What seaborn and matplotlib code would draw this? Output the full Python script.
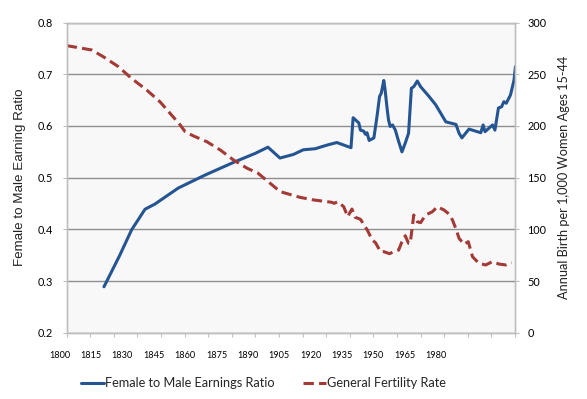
import numpy as np
import pandas as pd
import seaborn as sns
import matplotlib.pyplot as plt
from matplotlib.ticker import MultipleLocator

sns.set_theme(style="white")
plt.rcParams['font.family'] = ['Lato', 'DejaVu Sans']

# female to male earnings ratio (left axis)
earn_years = [1815.8, 1822.5, 1827.5, 1833.2, 1837.4, 1847.3, 1858.6, 1871.4, 1879.9, 1885.3,
              1890.4, 1896.1, 1900.3, 1905.3, 1910.3, 1914.5, 1920.5, 1921.4, 1923.8, 1924.5,
              1925.9, 1926.6, 1927.3, 1928.2, 1930.2, 1931.6, 1932.6, 1933.3, 1934.4, 1934.9,
              1935.8, 1936.4, 1937.1, 1938.1, 1939.3, 1940.7, 1942.1, 1943.5, 1944.9, 1946.1,
              1947.1, 1948.6, 1950.0, 1953.6, 1956.4, 1960.7, 1965.0, 1966.3, 1967.5, 1970.5,
              1975.5, 1976.5, 1977.3, 1980.5, 1981.5, 1983.0, 1984.3, 1985.3, 1986.3, 1988.1,
              1989.6, 1990.2]
earn_ratio = [0.289, 0.350, 0.399, 0.439, 0.449, 0.480, 0.505, 0.531, 0.547, 0.559,
              0.538, 0.545, 0.554, 0.556, 0.563, 0.568, 0.558, 0.616, 0.606, 0.592,
              0.590, 0.584, 0.587, 0.572, 0.577, 0.621, 0.657, 0.663, 0.688, 0.672,
              0.634, 0.612, 0.599, 0.602, 0.592, 0.570, 0.550, 0.567, 0.586, 0.673,
              0.676, 0.687, 0.676, 0.657, 0.641, 0.608, 0.603, 0.586, 0.577, 0.594,
              0.587, 0.602, 0.589, 0.602, 0.592, 0.635, 0.637, 0.647, 0.644, 0.660,
              0.689, 0.715]

# general fertility rate (right axis)
gfr_years = [1800.0, 1810.6, 1815.5, 1821.9, 1827.5, 1833.9, 1839.5, 1843.8, 1848.1, 1850.2,
             1853.8, 1859.4, 1865.1, 1870.7, 1876.5, 1881.0, 1890.5, 1898.9, 1904.6, 1912.4,
             1913.4, 1914.8, 1917.4, 1919.1, 1920.9, 1922.3, 1924.5, 1927.4, 1929.5, 1930.9,
             1933.0, 1934.4, 1936.8, 1939.3, 1940.7, 1942.1, 1943.5, 1944.9, 1945.6, 1947.1,
             1948.6, 1950.0, 1952.1, 1955.0, 1957.1, 1959.9, 1962.0, 1963.5, 1964.9, 1966.3,
             1968.4, 1970.2, 1972.0, 1974.7, 1977.6, 1980.4, 1983.2, 1986.1, 1988.6]
gfr_rate = [277.7, 273.5, 267.0, 257.4, 246.0, 234.8, 223.5, 212.3, 201.0, 194.5,
            190.3, 184.8, 176.8, 167.1, 159.1, 154.5, 136.5, 131.0, 128.5, 126.2,
            125.2, 126.8, 122.0, 112.3, 119.7, 111.7, 109.8, 99.4, 89.8, 87.1,
            78.5, 78.5, 76.5, 79.1, 80.0, 88.1, 93.9, 86.5, 86.5, 113.9,
            107.4, 106.5, 113.9, 117.1, 121.9, 118.8, 114.9, 109.1, 101.0, 91.4,
            85.6, 88.1, 73.6, 67.2, 65.6, 68.8, 66.5, 65.6, 67.8]

# category labels as they appear under the axis
x_labels = ['1800', '1815', '1830', '1845', '1860', '1875', '1890',
            '1905', '1920', '1935', '1950', '1965', '1980']

blue = '#245592'
red = '#A33A36'
grid_c = '#8E8E8E'
edge_c = '#BFBFBF'

earn = pd.DataFrame({'year': earn_years, 'ratio': earn_ratio})
gfr = pd.DataFrame({'year': gfr_years, 'rate': gfr_rate})

fig = plt.figure(figsize=(5.87, 3.99), dpi=100)
ax = fig.add_axes([0.1136, 0.1659, 0.7637, 0.7775])
ax2 = ax.twinx()
ax.set_facecolor('#F8F8F8')
ax2.patch.set_visible(False)

sns.lineplot(data=earn, x='year', y='ratio', ax=ax, color=blue, lw=2.2,
             label='Female to Male Earnings Ratio', legend=False)
sns.lineplot(data=gfr, x='year', y='rate', ax=ax2, color=red, lw=2.2,
             label='General Fertility Rate', legend=False)
ax2.lines[-1].set_linestyle((0, (3.4, 1.7)))

ax.set_xlim(1800, 1990)
ax.set_ylim(0.2, 0.8)
ax2.set_ylim(0, 300)
ax.set_yticks(np.arange(0.2, 0.81, 0.1))
ax.set_yticklabels([f'{v:.1f}' for v in np.arange(0.2, 0.81, 0.1)])
ax2.set_yticks(range(0, 301, 50))

# labels sit every 13.3 years, right-aligned so they fall a little left of their slot
ax.set_xticks([1801.5 + 13.3 * i for i in range(len(x_labels))], x_labels, ha='right')
ax.xaxis.set_minor_locator(MultipleLocator(10))

ax.grid(axis='y', color=grid_c, lw=1.0)
ax.set_axisbelow(True)
for a in (ax, ax2):
    for s in a.spines.values():
        s.set_color(edge_c)
        s.set_linewidth(1.0)

ax.tick_params(axis='x', which='major', length=0, pad=13, labelsize=6.6, colors='black')
ax.tick_params(axis='x', which='minor', bottom=True, length=3, width=0.8, color=edge_c)
ax.tick_params(axis='y', left=True, length=3, width=0.8, color=edge_c, pad=7, labelsize=7.8, labelcolor='black')
ax2.tick_params(axis='y', right=True, length=3, width=0.8, color=edge_c, pad=6, labelsize=7.8, labelcolor='black')

ax.set_xlabel('')
ax.set_ylabel('Female to Male Earning Ratio', family=['Liberation Sans', 'DejaVu Sans'],
              fontsize=9.6, color='#222222', labelpad=8)
ax2.set_ylabel('Annual Birth per 1,000 Women Ages 15-44', fontsize=9.2, color='#222222', labelpad=8)

handles = ax.lines[:1] + ax2.lines[-1:]
fig.legend(handles, ['Female to Male Earnings Ratio', 'General Fertility Rate'],
           loc='center', bbox_to_anchor=(0.449, 0.04), ncol=2, frameon=False,
           fontsize=9.2, handlelength=1.8, handletextpad=0.1, columnspacing=2.2)

fig.savefig('out.png', dpi=100)
